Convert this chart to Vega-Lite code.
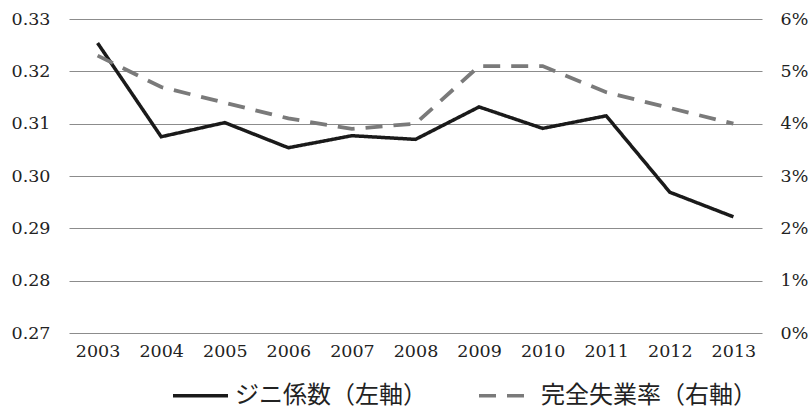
{
  "$schema": "https://vega.github.io/schema/vega-lite/v6.json",
  "width": 693,
  "height": 314,
  "autosize": {"type": "none"},
  "padding": {"left": 69, "top": 19, "right": 50, "bottom": 78},
  "background": "white",
  "config": {
    "font": "DejaVu Serif",
    "view": {"stroke": null},
    "axis": {"domain": false, "ticks": false, "labelColor": "#222222", "labelFontSize": 17.5, "labelFont": "DejaVu Serif", "title": null}
  },
  "data": {
    "values": [
      {"year": "2003", "series": "ジニ係数（左軸）", "value": 0.3254},
      {"year": "2004", "series": "ジニ係数（左軸）", "value": 0.3075},
      {"year": "2005", "series": "ジニ係数（左軸）", "value": 0.3102},
      {"year": "2006", "series": "ジニ係数（左軸）", "value": 0.3054},
      {"year": "2007", "series": "ジニ係数（左軸）", "value": 0.3077},
      {"year": "2008", "series": "ジニ係数（左軸）", "value": 0.3070},
      {"year": "2009", "series": "ジニ係数（左軸）", "value": 0.3132},
      {"year": "2010", "series": "ジニ係数（左軸）", "value": 0.3091},
      {"year": "2011", "series": "ジニ係数（左軸）", "value": 0.3115},
      {"year": "2012", "series": "ジニ係数（左軸）", "value": 0.2969},
      {"year": "2013", "series": "ジニ係数（左軸）", "value": 0.2922},
      {"year": "2003", "series": "完全失業率（右軸）", "value": 0.053},
      {"year": "2004", "series": "完全失業率（右軸）", "value": 0.047},
      {"year": "2005", "series": "完全失業率（右軸）", "value": 0.044},
      {"year": "2006", "series": "完全失業率（右軸）", "value": 0.041},
      {"year": "2007", "series": "完全失業率（右軸）", "value": 0.039},
      {"year": "2008", "series": "完全失業率（右軸）", "value": 0.040},
      {"year": "2009", "series": "完全失業率（右軸）", "value": 0.051},
      {"year": "2010", "series": "完全失業率（右軸）", "value": 0.051},
      {"year": "2011", "series": "完全失業率（右軸）", "value": 0.046},
      {"year": "2012", "series": "完全失業率（右軸）", "value": 0.043},
      {"year": "2013", "series": "完全失業率（右軸）", "value": 0.040}
    ]
  },
  "encoding": {
    "x": {
      "field": "year",
      "type": "ordinal",
      "scale": {"type": "point", "padding": 0.45},
      "axis": {"labelAngle": 0, "grid": false, "labelPadding": 9, "labelFont": "DejaVu Serif", "labelFontSize": 17.5}
    },
    "color": {
      "field": "series",
      "type": "nominal",
      "scale": {"domain": ["ジニ係数（左軸）", "完全失業率（右軸）"], "range": ["#1a1a1a", "#7a7a7a"]},
      "legend": {
        "orient": "none",
        "legendX": 102,
        "legendY": 347,
        "direction": "horizontal",
        "title": null,
        "symbolType": "stroke",
        "symbolSize": 3025,
        "symbolStrokeWidth": 3.5,
        "labelFont": "Noto Sans CJK JP",
        "labelFontSize": 24,
        "labelColor": "#222222",
        "labelOffset": 5,
        "columnPadding": 45,
        "labelLimit": 400
      }
    },
    "strokeDash": {
      "field": "series",
      "type": "nominal",
      "scale": {"domain": ["ジニ係数（左軸）", "完全失業率（右軸）"], "range": [[1, 0], [17, 11]]},
      "legend": null
    }
  },
  "layer": [
    {
      "transform": [{"filter": "datum.series === 'ジニ係数（左軸）'"}],
      "mark": {"type": "line", "strokeWidth": 3.5},
      "encoding": {
        "y": {
          "field": "value",
          "type": "quantitative",
          "scale": {"domain": [0.27, 0.33], "zero": false, "nice": false},
          "axis": {
            "orient": "left",
            "values": [0.27, 0.28, 0.29, 0.30, 0.31, 0.32, 0.33],
            "format": ".2f",
            "grid": true,
            "gridColor": "#8c8c8c",
            "gridWidth": 1.2,
            "gridOpacity": 1,
            "labelPadding": 19,
            "labelFont": "DejaVu Serif",
            "labelFontSize": 17.5,
            "labelColor": "#222222"
          }
        }
      }
    },
    {
      "transform": [{"filter": "datum.series === '完全失業率（右軸）'"}],
      "mark": {"type": "line", "strokeWidth": 3.8},
      "encoding": {
        "y": {
          "field": "value",
          "type": "quantitative",
          "scale": {"domain": [0, 0.06], "nice": false},
          "axis": {
            "orient": "right",
            "values": [0, 0.01, 0.02, 0.03, 0.04, 0.05, 0.06],
            "format": ".0%",
            "grid": false,
            "labelPadding": 18,
            "labelFont": "DejaVu Serif",
            "labelFontSize": 17.5,
            "labelColor": "#222222"
          }
        }
      }
    }
  ],
  "resolve": {"scale": {"y": "independent"}}
}
